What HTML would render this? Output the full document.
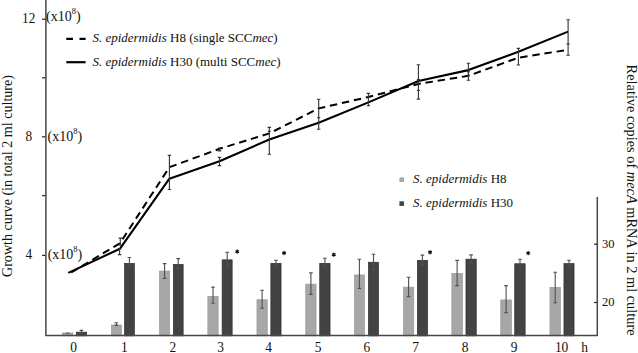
<!DOCTYPE html><html><head><meta charset="utf-8"><style>html,body{margin:0;padding:0;background:#fff;overflow:hidden;}svg{display:block;}text{font-family:"Liberation Serif",serif;}</style></head><body>
<svg width="638" height="353" viewBox="0 0 638 353">
<rect width="638" height="353" fill="#fff"/>
<rect x="62.55" y="332.95" width="10.30" height="2.9" fill="#a7a7a7" stroke="#9a9a9a" stroke-width="0.7"/>
<rect x="76.25" y="332.15" width="10.40" height="3.7" fill="#434343" stroke="#2e2e2e" stroke-width="0.7"/>
<path d="M81.5 330.4V333.0M79.7 330.4H83.2M79.7 333.0H83.2" stroke="#505050" stroke-width="1.1" fill="none"/>
<rect x="111.45" y="324.95" width="10.00" height="10.9" fill="#a7a7a7" stroke="#9a9a9a" stroke-width="0.7"/>
<rect x="124.55" y="263.35" width="9.80" height="72.5" fill="#434343" stroke="#2e2e2e" stroke-width="0.7"/>
<path d="M116.4 322.7V325.4M114.6 322.7H118.2M114.6 325.4H118.2" stroke="#505050" stroke-width="1.1" fill="none"/>
<path d="M129.4 257.5V266.5M127.6 257.5H131.2M127.6 266.5H131.2" stroke="#505050" stroke-width="1.1" fill="none"/>
<rect x="159.55" y="271.05" width="10.10" height="64.8" fill="#a7a7a7" stroke="#9a9a9a" stroke-width="0.7"/>
<rect x="173.35" y="264.35" width="9.80" height="71.5" fill="#434343" stroke="#2e2e2e" stroke-width="0.7"/>
<path d="M164.6 263.6V278.4M162.8 263.6H166.4M162.8 278.4H166.4" stroke="#505050" stroke-width="1.1" fill="none"/>
<path d="M178.2 258.6V268.5M176.4 258.6H180.1M176.4 268.5H180.1" stroke="#505050" stroke-width="1.1" fill="none"/>
<rect x="207.85" y="296.35" width="10.30" height="39.5" fill="#a7a7a7" stroke="#9a9a9a" stroke-width="0.7"/>
<rect x="222.15" y="259.85" width="10.00" height="76.0" fill="#434343" stroke="#2e2e2e" stroke-width="0.7"/>
<path d="M213.0 287.1V303.2M211.2 287.1H214.8M211.2 303.2H214.8" stroke="#505050" stroke-width="1.1" fill="none"/>
<path d="M227.2 252.3V267.0M225.3 252.3H229.0M225.3 267.0H229.0" stroke="#505050" stroke-width="1.1" fill="none"/>
<rect x="256.95" y="299.75" width="10.30" height="36.1" fill="#a7a7a7" stroke="#9a9a9a" stroke-width="0.7"/>
<rect x="270.85" y="263.35" width="10.20" height="72.5" fill="#434343" stroke="#2e2e2e" stroke-width="0.7"/>
<path d="M262.1 290.3V308.2M260.3 290.3H263.9M260.3 308.2H263.9" stroke="#505050" stroke-width="1.1" fill="none"/>
<path d="M275.9 260.3V265.6M274.1 260.3H277.8M274.1 265.6H277.8" stroke="#505050" stroke-width="1.1" fill="none"/>
<rect x="305.75" y="284.15" width="10.30" height="51.7" fill="#a7a7a7" stroke="#9a9a9a" stroke-width="0.7"/>
<rect x="319.75" y="263.35" width="10.30" height="72.5" fill="#434343" stroke="#2e2e2e" stroke-width="0.7"/>
<path d="M310.9 272.9V294.4M309.1 272.9H312.7M309.1 294.4H312.7" stroke="#505050" stroke-width="1.1" fill="none"/>
<path d="M324.9 258.2V267.0M323.1 258.2H326.7M323.1 267.0H326.7" stroke="#505050" stroke-width="1.1" fill="none"/>
<rect x="354.35" y="274.95" width="10.10" height="60.9" fill="#a7a7a7" stroke="#9a9a9a" stroke-width="0.7"/>
<rect x="368.45" y="262.25" width="10.00" height="73.6" fill="#434343" stroke="#2e2e2e" stroke-width="0.7"/>
<path d="M359.4 259.3V288.4M357.6 259.3H361.2M357.6 288.4H361.2" stroke="#505050" stroke-width="1.1" fill="none"/>
<path d="M373.5 254.2V269.6M371.7 254.2H375.3M371.7 269.6H375.3" stroke="#505050" stroke-width="1.1" fill="none"/>
<rect x="403.45" y="287.15" width="10.30" height="48.7" fill="#a7a7a7" stroke="#9a9a9a" stroke-width="0.7"/>
<rect x="417.35" y="260.35" width="10.20" height="75.5" fill="#434343" stroke="#2e2e2e" stroke-width="0.7"/>
<path d="M408.6 277.3V296.6M406.8 277.3H410.4M406.8 296.6H410.4" stroke="#505050" stroke-width="1.1" fill="none"/>
<path d="M422.4 255.1V264.7M420.6 255.1H424.2M420.6 264.7H424.2" stroke="#505050" stroke-width="1.1" fill="none"/>
<rect x="451.85" y="273.45" width="10.60" height="62.4" fill="#a7a7a7" stroke="#9a9a9a" stroke-width="0.7"/>
<rect x="465.95" y="259.15" width="10.30" height="76.7" fill="#434343" stroke="#2e2e2e" stroke-width="0.7"/>
<path d="M457.1 260.4V285.6M455.3 260.4H458.9M455.3 285.6H458.9" stroke="#505050" stroke-width="1.1" fill="none"/>
<path d="M471.1 254.9V262.6M469.3 254.9H472.9M469.3 262.6H472.9" stroke="#505050" stroke-width="1.1" fill="none"/>
<rect x="500.75" y="299.95" width="10.70" height="35.9" fill="#a7a7a7" stroke="#9a9a9a" stroke-width="0.7"/>
<rect x="514.75" y="263.75" width="10.40" height="72.1" fill="#434343" stroke="#2e2e2e" stroke-width="0.7"/>
<path d="M506.1 285.6V312.6M504.3 285.6H507.9M504.3 312.6H507.9" stroke="#505050" stroke-width="1.1" fill="none"/>
<path d="M520.0 259.3V267.2M518.2 259.3H521.8M518.2 267.2H521.8" stroke="#505050" stroke-width="1.1" fill="none"/>
<rect x="549.95" y="287.35" width="10.50" height="48.5" fill="#a7a7a7" stroke="#9a9a9a" stroke-width="0.7"/>
<rect x="563.95" y="263.65" width="10.10" height="72.2" fill="#434343" stroke="#2e2e2e" stroke-width="0.7"/>
<path d="M555.2 272.2V302.8M553.4 272.2H557.0M553.4 302.8H557.0" stroke="#505050" stroke-width="1.1" fill="none"/>
<path d="M569.0 260.2V266.6M567.2 260.2H570.8M567.2 266.6H570.8" stroke="#505050" stroke-width="1.1" fill="none"/>
<path d="M65.8 333.2H69.6" stroke="#555" stroke-width="1.1"/>
<path d="M237.20 249.90L237.20 253.30M235.73 250.75L238.67 252.45M238.67 250.75L235.73 252.45" stroke="#111" stroke-width="1.1" stroke-linecap="round"/>
<circle cx="237.2" cy="251.6" r="1.2" fill="#111"/>
<path d="M284.10 251.30L284.10 254.70M282.63 252.15L285.57 253.85M285.57 252.15L282.63 253.85" stroke="#111" stroke-width="1.1" stroke-linecap="round"/>
<circle cx="284.1" cy="253.0" r="1.2" fill="#111"/>
<path d="M333.80 253.00L333.80 256.40M332.33 253.85L335.27 255.55M335.27 253.85L332.33 255.55" stroke="#111" stroke-width="1.1" stroke-linecap="round"/>
<circle cx="333.8" cy="254.7" r="1.2" fill="#111"/>
<path d="M430.10 250.50L430.10 253.90M428.63 251.35L431.57 253.05M431.57 251.35L428.63 253.05" stroke="#111" stroke-width="1.1" stroke-linecap="round"/>
<circle cx="430.1" cy="252.2" r="1.2" fill="#111"/>
<path d="M528.20 251.40L528.20 254.80M526.73 252.25L529.67 253.95M529.67 252.25L526.73 253.95" stroke="#111" stroke-width="1.1" stroke-linecap="round"/>
<circle cx="528.2" cy="253.1" r="1.2" fill="#111"/>
<path d="M45.9 0V335.5H597.3V197" stroke="#484848" stroke-width="1.5" fill="none"/>
<path d="M42 19.2H45.5" stroke="#333" stroke-width="1.3"/>
<path d="M42 77.8H45.5" stroke="#333" stroke-width="1.3"/>
<path d="M42 136.8H45.5" stroke="#333" stroke-width="1.3"/>
<path d="M42 195.6H45.5" stroke="#333" stroke-width="1.3"/>
<path d="M42 255.4H45.5" stroke="#333" stroke-width="1.3"/>
<path d="M594 244.2H597" stroke="#333" stroke-width="1.3"/>
<path d="M594 302.5H597" stroke="#333" stroke-width="1.3"/>
<polyline points="68.3,272.9 120.0,248.7 169.4,178.7 219.5,161.3 269.3,139.5 318.7,122.8 368.4,102.4 418.4,81 468.4,70.1 518.4,51.8 568.1,31.6" fill="none" stroke="#000" stroke-width="2.1" stroke-linejoin="round"/>
<polyline points="68.3,274.3 120.0,243.2 169.4,167.2 219.5,148.8 269.3,133.4 318.7,108.4 368.4,97 418.4,84 468.4,75.8 518.4,57.7 568.1,49.8" fill="none" stroke="#000" stroke-width="2.0" stroke-dasharray="7.5 4.8" stroke-dashoffset="-3.5" stroke-linejoin="round"/>
<path d="M120.3 238.1V245M118.6 238.1H122.0M118.6 245H122.0" stroke="#333" stroke-width="1.1" fill="none"/>
<path d="M119.6 248.7V254.6M117.9 248.7H121.3M117.9 254.6H121.3" stroke="#333" stroke-width="1.1" fill="none"/>
<path d="M169.4 155.4V189.5M167.7 155.4H171.1M167.7 189.5H171.1" stroke="#333" stroke-width="1.1" fill="none"/>
<path d="M219.5 157.4V165.6M217.8 157.4H221.2M217.8 165.6H221.2" stroke="#333" stroke-width="1.1" fill="none"/>
<path d="M219.5 148V150.9M217.8 148H221.2M217.8 150.9H221.2" stroke="#333" stroke-width="1.1" fill="none"/>
<path d="M269.3 127.4V154.2M267.6 127.4H271.0M267.6 154.2H271.0" stroke="#333" stroke-width="1.1" fill="none"/>
<path d="M318.7 99.3V129.2M317.0 99.3H320.4M317.0 129.2H320.4" stroke="#333" stroke-width="1.1" fill="none"/>
<path d="M368.4 93.4V105.8M366.7 93.4H370.1M366.7 105.8H370.1" stroke="#333" stroke-width="1.1" fill="none"/>
<path d="M418.4 64.8V99.1M416.7 64.8H420.1M416.7 99.1H420.1" stroke="#333" stroke-width="1.1" fill="none"/>
<path d="M468.4 63.3V80.3M466.7 63.3H470.1M466.7 80.3H470.1" stroke="#333" stroke-width="1.1" fill="none"/>
<path d="M518.4 48.4V65M516.7 48.4H520.1M516.7 65H520.1" stroke="#333" stroke-width="1.1" fill="none"/>
<path d="M568.1 19.8V55.3M566.4 19.8H569.8M566.4 55.3H569.8" stroke="#333" stroke-width="1.1" fill="none"/>
<path d="M267.8 131.3H270.8" stroke="#333" stroke-width="1.2" fill="none"/>
<path d="M416.9 79.5H419.9" stroke="#333" stroke-width="1.2" fill="none"/>
<path d="M416.9 90.4H419.9" stroke="#333" stroke-width="1.2" fill="none"/>
<path d="M466.9 71.8H469.9" stroke="#333" stroke-width="1.2" fill="none"/>
<path d="M466.9 75.2H469.9" stroke="#333" stroke-width="1.2" fill="none"/>
<path d="M566.6 43.9H569.6" stroke="#333" stroke-width="1.2" fill="none"/>
<path d="M317.2 117.7H320.2" stroke="#333" stroke-width="1.2" fill="none"/>
<text transform="translate(28.7,22.6) scale(0.95,1.05)" font-size="14" text-anchor="middle" fill="#111">12</text>
<text transform="translate(28.7,140.7) scale(0.95,1.05)" font-size="14" text-anchor="middle" fill="#111">8</text>
<text transform="translate(28.7,258.7) scale(0.95,1.05)" font-size="14" text-anchor="middle" fill="#111">4</text>
<text transform="translate(46.0,20.8)" font-size="14" text-anchor="start" fill="#111">(x10<tspan dy="-7" font-size="8.5">8</tspan><tspan dy="7">)</tspan></text>
<text transform="translate(47.5,140.7)" font-size="14" text-anchor="start" fill="#111">(x10<tspan dy="-7" font-size="8.5">8</tspan><tspan dy="7">)</tspan></text>
<text transform="translate(47.7,258.7)" font-size="14" text-anchor="start" fill="#111">(x10<tspan dy="-7" font-size="8.5">8</tspan><tspan dy="7">)</tspan></text>
<text transform="translate(73.5,351.7) scale(0.96,1.07)" font-size="14" text-anchor="middle" fill="#111">0</text>
<text transform="translate(124.4,351.7) scale(0.96,1.07)" font-size="14" text-anchor="middle" fill="#111">1</text>
<text transform="translate(172.9,351.7) scale(0.96,1.07)" font-size="14" text-anchor="middle" fill="#111">2</text>
<text transform="translate(220.6,351.7) scale(0.96,1.07)" font-size="14" text-anchor="middle" fill="#111">3</text>
<text transform="translate(268.6,351.7) scale(0.96,1.07)" font-size="14" text-anchor="middle" fill="#111">4</text>
<text transform="translate(318.1,351.7) scale(0.96,1.07)" font-size="14" text-anchor="middle" fill="#111">5</text>
<text transform="translate(366.8,351.7) scale(0.96,1.07)" font-size="14" text-anchor="middle" fill="#111">6</text>
<text transform="translate(415.6,351.7) scale(0.96,1.07)" font-size="14" text-anchor="middle" fill="#111">7</text>
<text transform="translate(465.0,351.7) scale(0.96,1.07)" font-size="14" text-anchor="middle" fill="#111">8</text>
<text transform="translate(514.0,351.7) scale(0.96,1.07)" font-size="14" text-anchor="middle" fill="#111">9</text>
<text transform="translate(561.6,351.7) scale(0.96,1.07)" font-size="14" text-anchor="middle" fill="#111">10</text>
<text transform="translate(584.5,351.7) scale(0.96,1.07)" font-size="14" text-anchor="middle" fill="#111">h</text>
<text transform="translate(601.9,248.4)" font-size="12.5" text-anchor="start" fill="#111">30</text>
<text transform="translate(601.9,305.5)" font-size="12.5" text-anchor="start" fill="#111">20</text>
<text transform="translate(11.5,277) rotate(-90)" font-size="14" fill="#111" textLength="202" lengthAdjust="spacingAndGlyphs">Growth curve (in total 2 ml culture)</text>
<text transform="translate(626.5,64.6) rotate(90)" font-size="14" fill="#111" textLength="271" lengthAdjust="spacingAndGlyphs">Relative copies of <tspan font-style="italic">mecA</tspan> mRNA in 2 ml culture</text>
<path d="M66.3 38.8H73M79.5 38.8H85.6" stroke="#000" stroke-width="2.2"/>
<path d="M66.3 62.2H85.6" stroke="#000" stroke-width="2.2"/>
<text transform="translate(92.4,42.2)" font-size="13" text-anchor="start" fill="#111"><tspan font-style="italic">S. epidermidis</tspan> H8 (single SCC<tspan font-style="italic">mec</tspan>)</text>
<text transform="translate(92.4,65.6)" font-size="13" text-anchor="start" fill="#111"><tspan font-style="italic">S. epidermidis</tspan> H30 (multi SCC<tspan font-style="italic">mec</tspan>)</text>
<rect x="399.4" y="177.4" width="4.6" height="4.6" fill="#a7a7a7"/>
<rect x="399.4" y="201.3" width="4.6" height="4.6" fill="#434343"/>
<text transform="translate(413,183)" font-size="13" text-anchor="start" fill="#111"><tspan font-style="italic">S. epidermidis</tspan> H8</text>
<text transform="translate(413,207)" font-size="13" text-anchor="start" fill="#111"><tspan font-style="italic">S. epidermidis</tspan> H30</text>
</svg></body></html>
